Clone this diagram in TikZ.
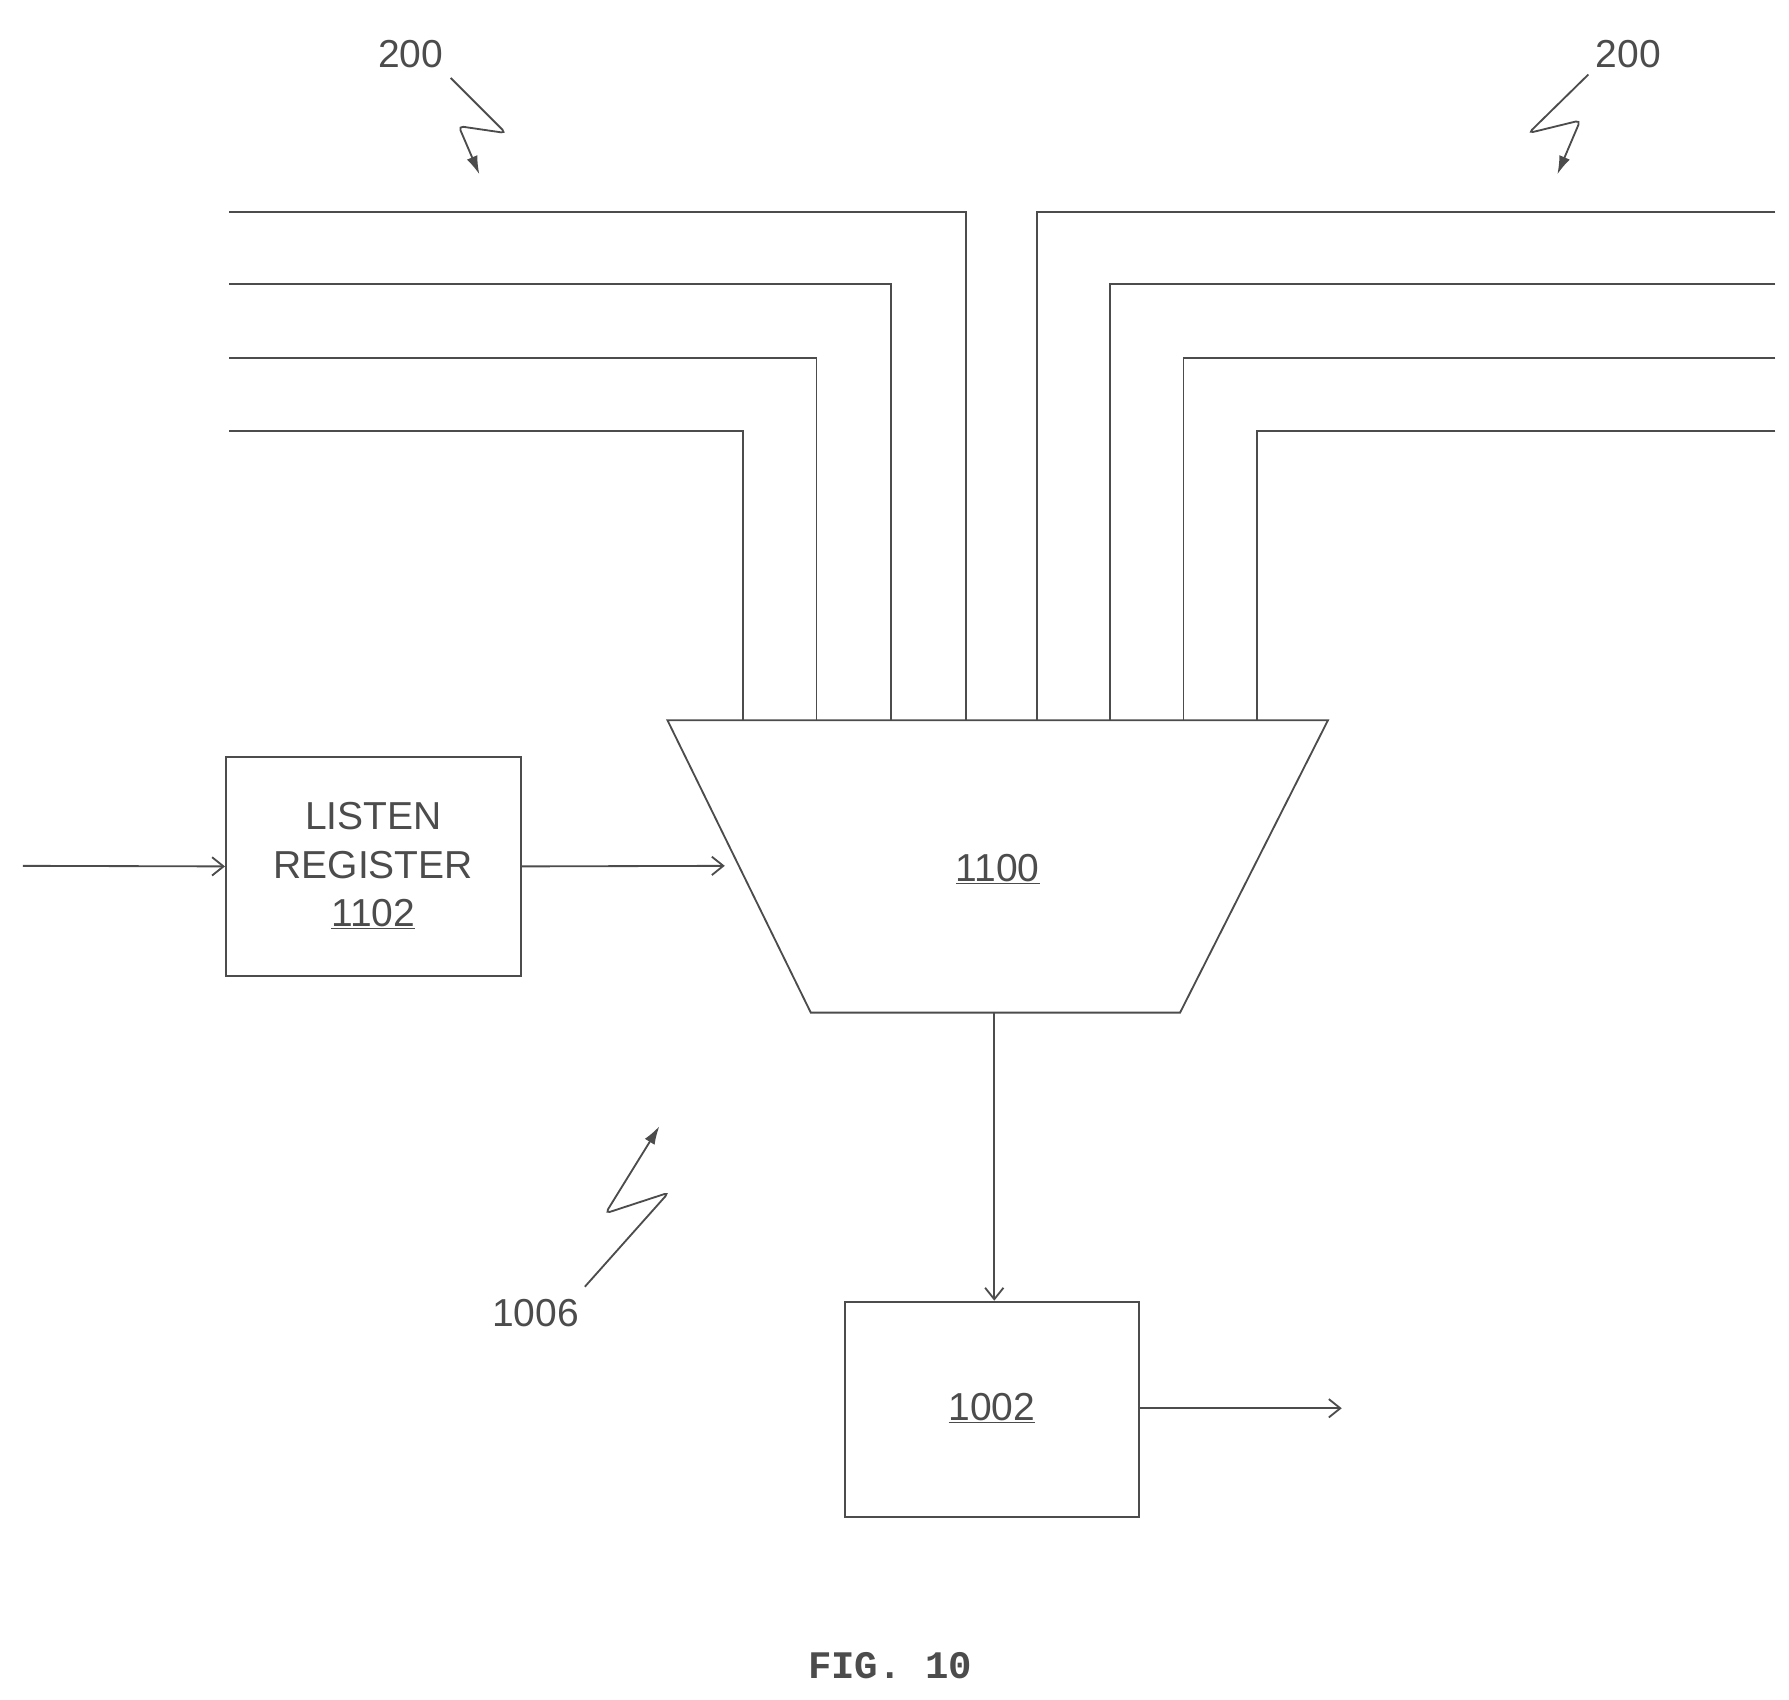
\documentclass[tikz,border=0pt]{standalone}
\usepackage{fontspec}
\setmainfont{Liberation Sans}
\setmonofont{Liberation Mono}
\usetikzlibrary{arrows.meta}
\begin{document}
\begin{tikzpicture}[x=1pt,y=-1pt,
  ln/.style={draw=black!70,line width=1.6pt},
  arr/.style={ln,-{Straight Barb[length=10pt,width=16pt]}},
  sq/.style={ln,-{Latex[length=16pt,width=10pt]},rounded corners=4pt},
  lbl/.style={text=black!70,font=\fontsize{34}{40}\selectfont},
  box/.style={ln,draw,minimum width=257pt,inner sep=0pt}]
\useasboundingbox (0,0) rectangle (1560,1482);
% bus lines
\foreach \y/\x in {185/842,248/777,312/712,376/648}{
  \draw[ln] (200,\y) -- (\x,\y) -- (\x,628);}
\foreach \y/\x in {185/904,248/968,312/1032,376/1096}{
  \draw[ln] (1548,\y) -- (\x,\y) -- (\x,628);}
% mux
\draw[ln,fill=white] (582,628) coordinate (mtl) -- (1158,628) -- (1029,883) -- (707,883) -- cycle;
\node[lbl] (mux) at (870,758) {\underline{1100}};
\coordinate (mb) at (867,883);
\coordinate (ml) at (632,755);
% listen register
\node[box,minimum height=191pt] (lr) at (325.5,755.5) {};
\node[lbl,align=center] (lrt) at (325.5,755) {LISTEN\\[2pt]REGISTER\\[2pt]\underline{1102}};
\coordinate (in) at (20,755);
\draw[arr] (in) -- (lr.west);
\draw[arr] (lr.east) -- (ml);
% 1002
\node[box,minimum width=256pt,minimum height=188pt] (b2) at (865,1229) {};
\node[lbl] (b2t) at (865,1228) {\underline{1002}};
\draw[arr] (mb) -- (b2.north -| mb);
\coordinate (out) at (1170,1228);
\draw[arr] (b2.east |- out) -- (out);
% labels
\node[lbl] (l200a) at (358,47) {200};
\node[lbl] (l200b) at (1420,47) {200};
\node[lbl] (l1006) at (467,1145) {1006};
\draw[sq] (393,68) -- (441,116) -- (400,110) -- (418,152);
\draw[sq] (1385,65) -- (1333,116) -- (1378,105) -- (1358,152);
\draw[sq] (510,1122) -- (583,1040) -- (528,1058) -- (575,982);
\node[text=black!70,font=\ttfamily\bfseries\fontsize{34}{40}\selectfont] (fig) at (776,1452) {FIG. 10};
\end{tikzpicture}
\end{document}
